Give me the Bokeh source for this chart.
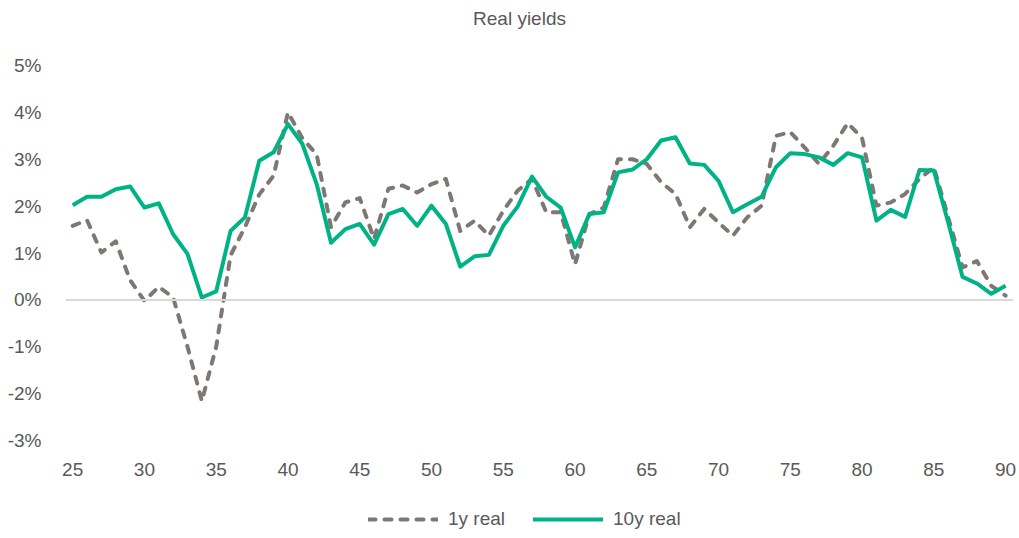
from bokeh.plotting import figure
from bokeh.layouts import column
from bokeh.models import Span, Legend, LegendItem, FixedTicker, PrintfTickFormatter, Range1d, Label
from bokeh.embed import file_html
from bokeh.resources import INLINE

years = list(range(25, 91))
one_y_real = [1.58, 1.70, 1.01, 1.25, 0.42, -0.02, 0.28, 0.05, -1.00, -2.16,
              -1.00, 0.95, 1.55, 2.25, 2.65, 4.00, 3.45, 3.10, 1.55, 2.08,
              2.17, 1.30, 2.37, 2.44, 2.29, 2.47, 2.58, 1.47, 1.69, 1.37,
              1.90, 2.33, 2.58, 1.87, 1.87, 0.76, 1.83, 1.97, 3.00, 3.00,
              2.90, 2.51, 2.26, 1.55, 1.94, 1.65, 1.37, 1.76, 2.01, 3.50,
              3.58, 3.25, 2.90, 3.29, 3.77, 3.45, 2.01, 2.08, 2.26, 2.58,
              2.83, 1.76, 0.69, 0.83, 0.30, 0.09]
ten_y_real = [2.02, 2.20, 2.20, 2.36, 2.42, 1.97, 2.06, 1.40, 0.98, 0.05,
              0.18, 1.47, 1.76, 2.97, 3.15, 3.75, 3.33, 2.47, 1.22, 1.51,
              1.62, 1.18, 1.83, 1.94, 1.58, 2.01, 1.62, 0.71, 0.93, 0.96,
              1.58, 1.99, 2.63, 2.20, 1.97, 1.12, 1.83, 1.87, 2.72, 2.78,
              3.00, 3.40, 3.47, 2.91, 2.88, 2.54, 1.87, 2.04, 2.20, 2.83,
              3.13, 3.11, 3.04, 2.88, 3.13, 3.04, 1.69, 1.92, 1.77, 2.77,
              2.76, 1.65, 0.49, 0.35, 0.13, 0.30]
x_ticks = list(range(25, 91, 5))
y_ticks = list(range(-3, 6))
title_text = "Real yields"
series_names = ["1y real", "10y real"]

FONT = "Liberation Sans"
TXT = "#595959"
GRAY = "#7F7872"
GREEN = "#00B386"
DASH = "7 9"
BL, BR = 65, 6          # left / right borders shared by all strips
FW = 1019 - BL - BR     # frame width


def strip(height, yr):
    f = figure(width=1019, height=height, output_backend="svg", toolbar_location=None,
               x_range=Range1d(0, FW), y_range=yr,
               x_axis_type=None, y_axis_type=None,
               min_border_left=BL, min_border_right=BR, min_border_top=0, min_border_bottom=0)
    f.grid.visible = False
    f.outline_line_color = None
    f.background_fill_color = "white"
    f.border_fill_color = "white"
    return f


# title strip
tf = strip(40, Range1d(0, 40))
tf.add_layout(Label(x=519 - BL, y=22, text=title_text, text_align="center", text_baseline="middle",
                    text_font=FONT, text_font_size="19px", text_color=TXT))

# main chart
p = figure(width=1019, height=438, output_backend="svg", toolbar_location=None,
           x_range=Range1d(24.5, 90.55), y_range=Range1d(-3, 5),
           min_border_left=BL, min_border_right=BR, min_border_top=25, min_border_bottom=38)
p.background_fill_color = "white"
p.border_fill_color = "white"
p.outline_line_color = None
p.grid.visible = False

for ax in (p.xaxis[0], p.yaxis[0]):
    ax.axis_line_color = None
    ax.major_tick_line_color = None
    ax.minor_tick_line_color = None
    ax.major_label_text_font = FONT
    ax.major_label_text_font_size = "19px"
    ax.major_label_text_color = TXT
p.xaxis.ticker = FixedTicker(ticks=x_ticks)
p.yaxis.ticker = FixedTicker(ticks=y_ticks)
p.yaxis.formatter = PrintfTickFormatter(format="%d%%")
p.yaxis.major_label_standoff = 18
p.xaxis.major_label_standoff = 16

p.add_layout(Span(location=0, dimension="width", line_color="#D9D9D9", line_width=2))

p.line(years, one_y_real, line_color=GRAY, line_width=4, line_dash=DASH, line_cap="round", line_join="round")
p.line(years, ten_y_real, line_color=GREEN, line_width=4, line_join="round")

# legend strip (its y-range sits far above the data, so the series only feed the legend keys)
lg = strip(60, Range1d(100, 160))
d1 = lg.line(years, one_y_real, line_color=GRAY, line_width=4, line_dash=DASH, line_cap="round")
d2 = lg.line(years, ten_y_real, line_color=GREEN, line_width=4, line_cap="round")
legend = Legend(items=[LegendItem(label=series_names[0], renderers=[d1]),
                       LegendItem(label=series_names[1], renderers=[d2])],
                location=(368 - BL, 8), orientation="horizontal",
                glyph_width=70, glyph_height=20, label_standoff=10, spacing=28,
                padding=0, margin=0, border_line_color=None, background_fill_alpha=0,
                label_text_font=FONT, label_text_font_size="19px", label_text_color=TXT)
lg.add_layout(legend, "center")

layout = column(tf, p, lg, spacing=0)
open("out.html", "w").write(file_html(layout, INLINE))
